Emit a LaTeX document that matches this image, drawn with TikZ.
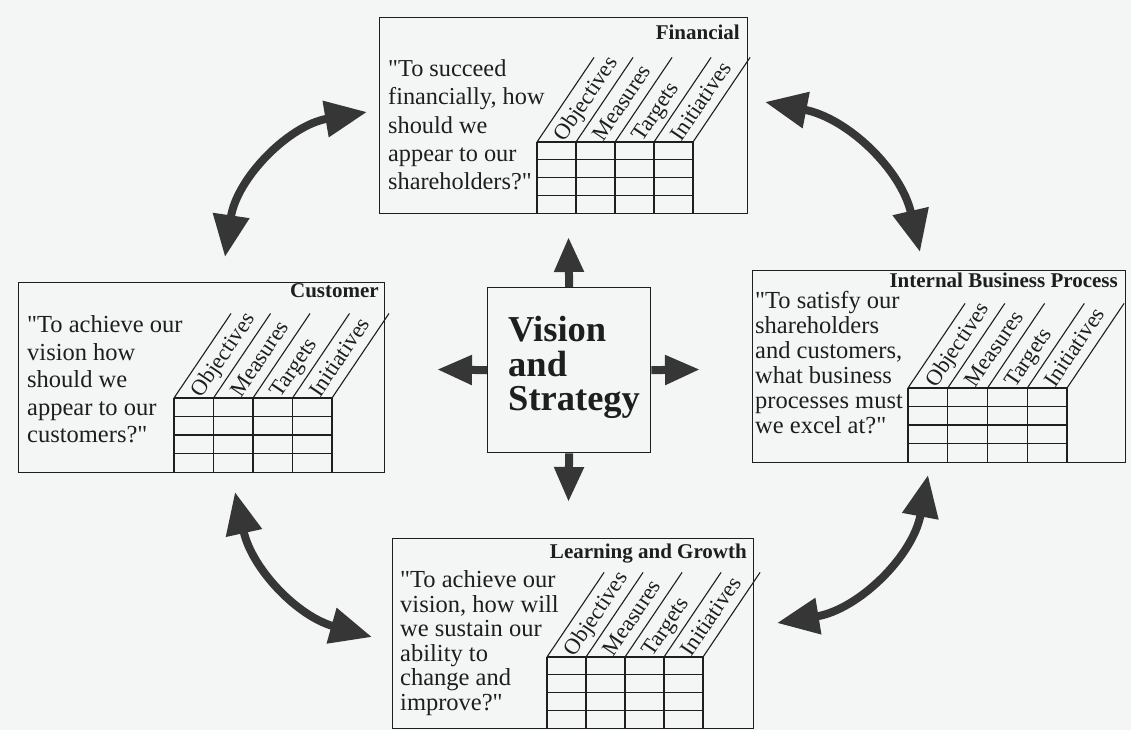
\documentclass[tikz,border=0pt]{standalone}
\usepackage{fontspec}
\setmainfont{Liberation Serif}
\usetikzlibrary{arrows.meta,calc}

\definecolor{paper}{HTML}{F4F5F5}
\definecolor{ink}{HTML}{1E1E1E}
\definecolor{arrowgray}{HTML}{363636}

\newcommand\qmark{\textquotedbl}

\tikzset{
  frame/.style={draw=ink, line width=1.3pt, anchor=north west, inner sep=0pt},
  gridline/.style={draw=ink, line width=1.1pt},
  question/.style={anchor=north west, inner sep=0pt, align=left, text=ink},
  perspective/.style={anchor=base east, inner sep=0pt, text=ink,
    font=\fontsize{21}{24}\selectfont\bfseries},
  colhead/.style={anchor=base west, inner sep=0pt, rotate=56, text=ink,
    font=\fontsize{22.5}{24}\selectfont},
  bigarrow/.style={draw=arrowgray, line width=8pt,
    arrows={Triangle[length=42pt,width=35pt]-Triangle[length=42pt,width=35pt]}},
  stubarrow/.style={draw=arrowgray, line width=8pt,
    arrows={-Triangle[length=35pt,width=28pt]}},
}

% #1 left x, #2 top y, #3 bottom y, #4 column width, #5 name prefix
\newcommand\bsctable[5]{%
  \foreach \i in {0,...,4} {
    \draw[gridline] (#1+\i*#4, -#2) -- (#1+\i*#4, -#3);
    \draw[gridline] (#1+\i*#4, -#2) -- ++(56:102);
  }
  \foreach \j in {0,...,3} {
    \draw[gridline] (#1, {-#2-\j*(#3-#2)/4}) -- ++(4*#4, 0);
  }
  \foreach \lab [count=\k from 0] in {Objectives,Measures,Targets,Initiatives} {
    \node[colhead] (#5-\k) at ($(#1+\k*#4+0.5*#4, -#2)+(56:4)+(-34:7)$) {\lab};
  }
}

\begin{document}
\begin{tikzpicture}[x=1pt, y=1pt]
  \fill[paper] (0,0) rectangle (1131,-730);
  \useasboundingbox (0,0) rectangle (1131,-730);

  % the four perspective boxes and the centre box
  \node[frame, minimum width=368pt, minimum height=196pt] (fin) at (379,-17) {};
  \node[frame, minimum width=366pt, minimum height=190pt] (cus) at (18,-282) {};
  \node[frame, minimum width=373pt, minimum height=192pt] (int) at (752,-270) {};
  \node[frame, minimum width=361pt, minimum height=190pt] (lrn) at (392,-538) {};
  \node[frame, minimum width=163pt, minimum height=165pt] (vis) at (487,-287) {};

  % titles
  \node[perspective] (fin-title) at (740,-40) {Financial};
  \node[perspective] (cus-title) at (379,-297) {Customer};
  \node[perspective] (int-title) at (1118,-287) {Internal Business Process};
  \node[perspective] (lrn-title) at (747,-558) {Learning and Growth};

  % guiding questions
  \node[question, font=\fontsize{24.3}{28.3}\selectfont] (fin-q) at (388,-59.4)
    {\qmark To succeed\\financially, how\\should we\\appear to our\\shareholders?\qmark};
  \node[question, font=\fontsize{24.5}{27.5}\selectfont] (cus-q) at (27,-315.3)
    {\qmark To achieve our\\vision how\\should we\\appear to our\\customers?\qmark};
  \node[question, font=\fontsize{24.5}{25}\selectfont] (int-q) at (755,-291)
    {\qmark To satisfy our\\shareholders\\and customers,\\what business\\processes must\\we excel at?\qmark};
  \node[question, font=\fontsize{24.5}{24.6}\selectfont] (lrn-q) at (400,-570.3)
    {\qmark To achieve our\\vision, how will\\we sustain our\\ability to\\change and\\improve?\qmark};

  % scorecard tables
  \bsctable{537}{142}{213}{39}{finh}
  \bsctable{174}{398}{472}{39.5}{cush}
  \bsctable{908}{388}{462}{39.75}{inth}
  \bsctable{547}{657}{728}{39}{lrnh}

  % centre box
  \node[question, font=\fontsize{36.5}{34.5}\selectfont\bfseries] (vis-text) at (508,-316)
    {Vision\\and\\Strategy};

  \coordinate (vup) at (568.5,-237);
  \coordinate (vleft) at (437,-369.5);
  \coordinate (vright) at (700,-369.5);
  \coordinate (vdown) at (568.5,-502);
  \draw[stubarrow] (vis.north) -- (vup);
  \draw[stubarrow] (vis.west) -- (vleft);
  \draw[stubarrow] (vis.east) -- (vright);
  \draw[stubarrow] (vis.south) -- (vdown);

  % links between neighbouring perspectives
  \coordinate (tl-a) at (225,-257);
  \coordinate (tl-b) at (367,-112);
  \coordinate (tr-a) at (765,-102);
  \coordinate (tr-b) at (920,-252);
  \coordinate (bl-a) at (235,-492);
  \coordinate (bl-b) at (372,-637);
  \coordinate (br-a) at (928,-475);
  \coordinate (br-b) at (777,-623);
  \draw[bigarrow] (tl-a) to[bend left=36] (tl-b);
  \draw[bigarrow] (tr-a) to[bend left=33] (tr-b);
  \draw[bigarrow] (bl-a) to[bend right=31] (bl-b);
  \draw[bigarrow] (br-a) to[bend left=35] (br-b);
\end{tikzpicture}
\end{document}
